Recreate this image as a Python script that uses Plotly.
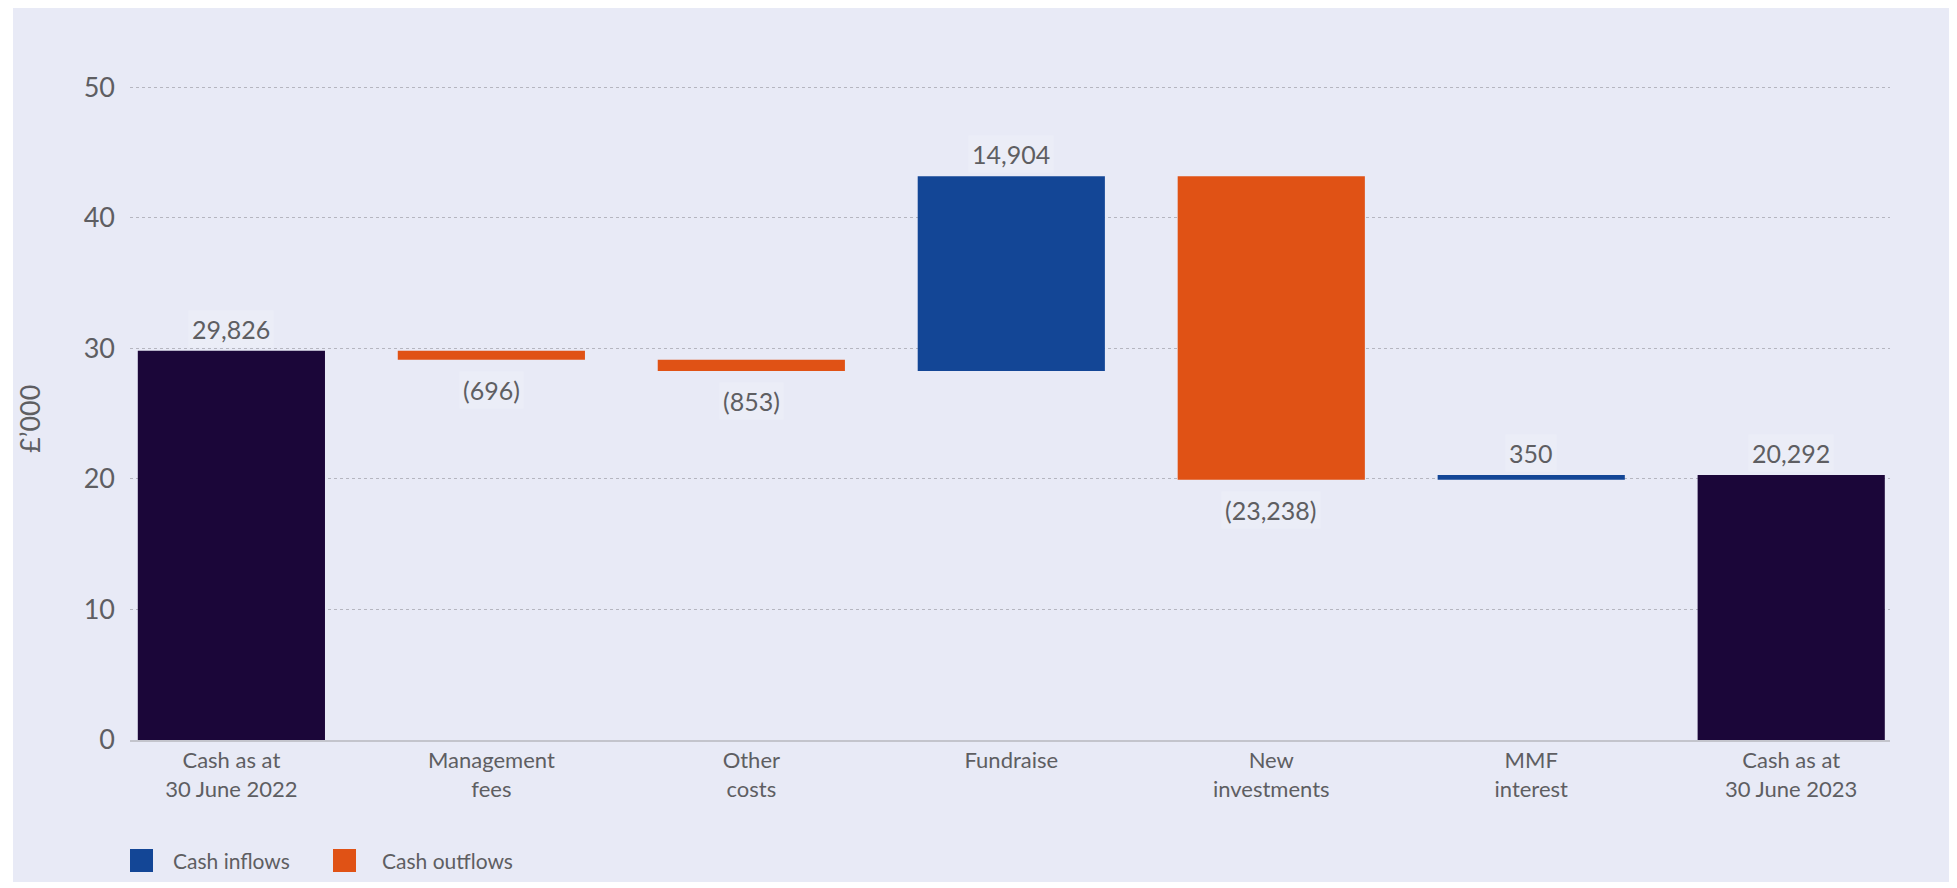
import plotly.graph_objects as go

categories = ["Cash as at<br>30 June 2022", "Management<br>fees", "Other<br>costs", "Fundraise",
              "New<br>investments", "MMF<br>interest", "Cash as at<br>30 June 2023"]
measures = ["absolute", "relative", "relative", "relative", "relative", "relative", "total"]
values_k = [29826, -696, -853, 14904, -23238, 350, 20292]
labels = ["29,826", "(696)", "(853)", "14,904", "(23,238)", "350", "20,292"]
y_ticks = [0, 10, 20, 30, 40, 50]
legend_names = ["Cash inflows", "Cash outflows"]

BG = "#E8EAF6"
DARK = "#1B0639"
BLUE = "#134696"
ORANGE = "#E05215"
TXT = "#5E5E62"
FONT = "Lato, Open Sans, sans-serif"

values_m = [v / 1000 for v in values_k]
xs = list(range(len(categories)))

W, H = 1949, 880
L, R, T, B = 122, 67, 78, 148
PW, PH = W - L - R, H - T - B

fig = go.Figure()
fig.add_trace(go.Waterfall(
    x=xs, y=values_m[:-1] + [0], measure=measures,
    width=[0.72] * len(xs),
    increasing=dict(marker=dict(color=BLUE)),
    decreasing=dict(marker=dict(color=ORANGE)),
    totals=dict(marker=dict(color=DARK)),
    connector=dict(visible=False),
    showlegend=False, hoverinfo="skip",
))

# value labels
running = 0.0
for i, (m, v, lab) in enumerate(zip(measures, values_m, labels)):
    if m == "absolute":
        running = v
        top, bottom = v, 0
        above = True
    elif m == "total":
        top, bottom = running, 0
        above = True
    else:
        start = running
        running += v
        top, bottom = max(start, running), min(start, running)
        above = v > 0
    fig.add_annotation(
        x=i, y=top if above else bottom, text=lab, showarrow=False,
        yshift=22 if above else -30, yanchor="middle",
        font=dict(family=FONT, size=25, color=TXT),
        bgcolor="#EBEDF7", borderpad=3,
    )

def px_x(p):
    return (p - L) / PW

def px_y(p):
    return (H - B - p) / PH

fig.add_annotation(xref="paper", yref="paper", x=px_x(22), y=px_y(411), xanchor="center",
                   yanchor="middle", text="£’000", showarrow=False, textangle=-90,
                   font=dict(family=FONT, size=27, color=TXT))

# background panel
fig.add_shape(type="rect", xref="paper", yref="paper", layer="below",
              x0=px_x(5), x1=px_x(W + 20), y0=px_y(874), y1=px_y(-20),
              fillcolor=BG, line=dict(width=0))

# legend (drawn manually so squares match the reference size)
leg_colors = [BLUE, ORANGE]
leg_sq_x = [122, 325]
leg_txt_x = [163, 372]
for name, col, sx, tx in zip(legend_names, leg_colors, leg_sq_x, leg_txt_x):
    fig.add_shape(type="rect", xref="paper", yref="paper",
                  x0=px_x(sx), x1=px_x(sx + 23), y0=px_y(864), y1=px_y(841),
                  fillcolor=col, line=dict(width=0))
    fig.add_annotation(xref="paper", yref="paper", x=px_x(tx), y=px_y(852),
                       xanchor="left", yanchor="middle", text=name, showarrow=False,
                       font=dict(family=FONT, size=21, color=TXT))

fig.update_layout(
    width=W, height=H,
    margin=dict(l=L, r=R, t=T, b=B),
    paper_bgcolor="white", plot_bgcolor=BG,
    font=dict(family=FONT, color=TXT),
    showlegend=False,
)
fig.update_xaxes(
    tickvals=xs, ticktext=categories, range=[-0.39, 6.38],
    showgrid=False, showline=True, linecolor="#C3C4CC", linewidth=2,
    tickfont=dict(family=FONT, size=22, color=TXT), ticks="", zeroline=False,
)
fig.update_yaxes(
    range=[0, 50.1], tickvals=y_ticks, showgrid=True, gridcolor="#B5B6C0", griddash="dot",
    gridwidth=1, zeroline=False, showline=False, ticks="",
    ticklabelstandoff=14,
    tickfont=dict(family=FONT, size=27, color=TXT),
)

fig.write_html("out.html")
